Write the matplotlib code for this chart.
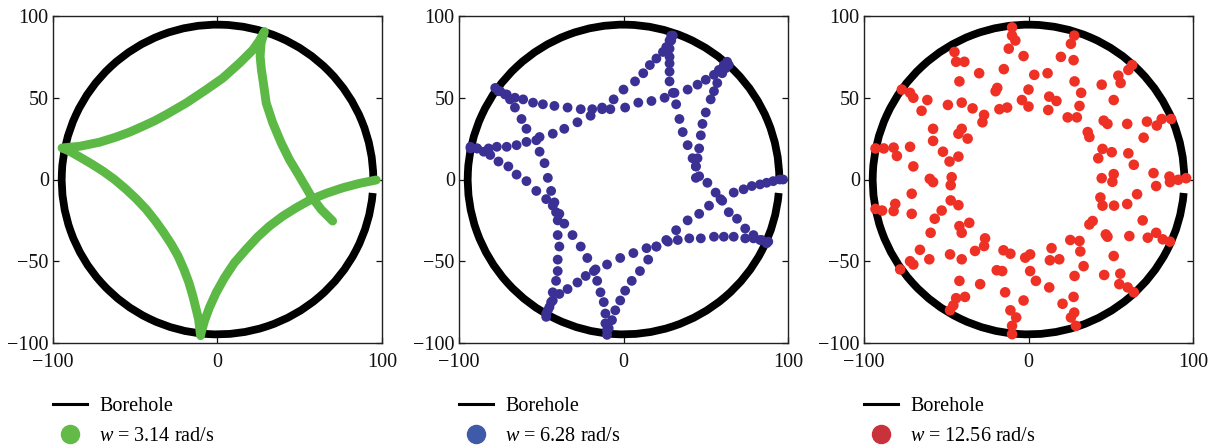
import matplotlib
matplotlib.use("Agg")
import matplotlib.pyplot as plt
from matplotlib.patches import Arc
from matplotlib.lines import Line2D

plt.rcParams['font.family'] = ['Liberation Serif', 'DejaVu Serif']
plt.rcParams['mathtext.fontset'] = 'custom'
plt.rcParams['mathtext.it'] = 'Liberation Serif:italic'
plt.rcParams['mathtext.rm'] = 'Liberation Serif'

# Borehole wall
BOREHOLE_RADIUS = 94.7
BOREHOLE_START_DEG = 0
BOREHOLE_END_DEG = 355

# Bit-centre trajectory, w = 3.14 rad/s (dense, drawn as a continuous band)
green_arc_0 = [(96.5, -0.3), (86.2, -2.4), (76.1, -5.1), (66.0, -8.5), (56.9, -12.2),
               (47.8, -17.3), (39.7, -22.4), (31.6, -28.5), (24.5, -35.0), (17.4, -42.7),
               (10.3, -50.9), (4.3, -60.0), (-0.8, -69.2), (-4.9, -78.3), (-7.9, -86.5),
               (-9.9, -93.6), (-10.3, -95.5)]
green_arc_1 = [(-10.3, -95.5), (-11.5, -85.5), (-13.0, -79.3), (-15.0, -71.2), (-17.4, -63.0),
               (-20.4, -55.0), (-24.0, -46.8), (-28.0, -39.7), (-32.6, -32.6), (-37.7, -25.4),
               (-43.3, -18.3), (-49.4, -11.8), (-55.9, -5.7), (-62.6, 0.0), (-69.6, 5.1),
               (-76.7, 9.6), (-83.8, 13.8), (-89.9, 17.3), (-94.5, 19.3)]
green_arc_2 = [(-94.5, 19.3), (-83.8, 20.3), (-71.7, 22.8), (-61.5, 26.0), (-53.4, 29.0),
               (-45.3, 32.6), (-38.0, 36.0), (-31.2, 39.7), (-19.0, 46.8), (-6.9, 54.9),
               (3.2, 62.0), (13.4, 71.2), (21.5, 79.3), (25.5, 85.0), (28.5, 90.5)]
green_arc_3 = [(28.5, 90.5), (26.5, 83.4), (25.9, 75.3), (26.7, 67.1), (27.9, 59.0),
               (29.6, 46.8), (33.6, 34.6), (38.7, 22.4), (43.7, 12.2), (49.8, 2.0),
               (56.9, -10.2), (63.0, -18.3), (70.0, -25.4)]

# Bit-centre trajectory, w = 6.28 rad/s
blue_arc_0 = [(97, 0), (95, 0), (91, -1), (87, -2), (83, -3), (78, -4), (73, -6), (67, -8),
              (59, -12), (52, -16), (46, -21), (39, -25), (32, -31), (26, -37), (20, -41),
              (15, -49), (10, -56), (5, -62), (1, -68), (-2, -74), (-5, -80), (-7, -86),
              (-9, -91), (-10, -95)]
blue_arc_1 = [(-10, -92), (-11, -88), (-11, -82), (-12, -75), (-14, -69), (-16, -62),
              (-18, -56), (-22, -48), (-26, -41), (-31, -34), (-36, -27), (-39, -21),
              (-43, -16), (-47, -12), (-53, -7), (-59, -1), (-65, 3), (-70, 8), (-76, 11),
              (-81, 15), (-85, 17), (-89, 19), (-93, 19)]
blue_arc_2 = [(-93, 20), (-89, 19), (-82, 19), (-77, 20), (-71, 20), (-65, 21), (-59, 23),
              (-51, 26), (-43, 28), (-36, 31), (-28, 35), (-20, 39), (-13, 44), (-6, 49),
              (0, 55), (7, 60), (12, 65), (16, 70), (20, 74), (24, 78), (26, 81), (28, 85),
              (29, 88)]
blue_arc_3 = [(30, 88), (29, 85), (28, 80), (28, 75), (28, 71), (28, 66), (28, 60), (30, 53),
              (32, 46), (34, 37), (36, 29), (39, 21), (42, 13), (44, 8), (46, 2), (51, -2),
              (56, -8), (60, -13), (64, -20), (69, -24), (74, -30), (79, -34), (83, -37),
              (87, -39)]
blue_arc_4 = [(88, -38), (84, -37), (79, -36), (74, -36), (67, -35), (61, -35), (55, -35),
              (47, -36), (40, -36), (33, -37), (27, -38), (20, -41), (14, -42), (6, -45),
              (-2, -48), (-10, -52), (-17, -55), (-23, -59), (-28, -63), (-34, -67),
              (-39, -70), (-43, -74), (-45, -78), (-47, -82)]
blue_arc_5 = [(-47, -84), (-46, -80), (-44, -75), (-43, -69), (-41, -62), (-40, -56),
              (-40, -49), (-39, -41), (-40, -34), (-40, -25), (-41, -20), (-42, -14),
              (-44, -7), (-46, 1), (-48, 10), (-51, 17), (-53, 24), (-59, 31), (-62, 37),
              (-66, 44), (-69, 49), (-72, 52), (-76, 54), (-78, 56)]
blue_arc_6 = [(-75, 54), (-71, 52), (-66, 50), (-61, 49), (-55, 47), (-49, 46), (-42, 45),
              (-34, 44), (-26, 43), (-19, 43), (-13, 43), (-8, 43), (1, 44), (9, 47),
              (17, 48), (25, 50), (31, 53), (39, 55), (45, 58), (50, 61), (55, 64), (58, 67),
              (61, 70), (63, 72)]
blue_arc_7 = [(64, 70), (62, 68), (60, 65), (57, 59), (55, 54), (53, 49), (50, 41), (48, 34),
              (47, 27), (46, 19), (45, 13), (44, 8), (44, 1)]

# Bit-centre trajectory, w = 12.56 rad/s
red_upper_left = [(-10, 93), (-10, 88), (-8, 85), (-12, 80), (-3, 75.5), (-45, 78), (-44, 72),
                  (-39, 72), (-30, 65), (-15, 67.5), (-42, 60), (-19, 56), (-20, 54), (0, 55),
                  (-72, 53), (-70, 50), (-77, 55), (-61.5, 48.6), (-49, 45.6), (-40.6, 47),
                  (-34, 43.5), (-65, 42), (-27, 39.5), (-28, 35), (-17.7, 43), (-13, 44),
                  (-4, 48.6), (0, 44.6), (-58, 31), (-40.6, 31), (-42.6, 28), (-37, 25),
                  (-58, 23.6), (-72, 20), (-88, 19), (-82, 19.5), (-80, 14.4), (-52, 17),
                  (-48, 11), (-42.6, 14), (-70, 8), (-60, 0.4), (-46.7, 1.4), (-93, 19)]
red_upper_right = [(27.8, 88), (25.8, 83), (19.7, 75), (27.4, 73), (3.5, 64), (11.6, 65),
                   (28, 60), (32, 53), (12.6, 50.7), (17, 48), (31, 45), (12, 42.5),
                   (23.8, 38), (29.4, 38), (44.5, 58), (54.6, 63.5), (56, 59), (60.7, 67),
                   (63, 70), (51.8, 48.6), (45.7, 36), (48, 34), (60, 34), (72, 35.4),
                   (78, 33), (81, 37), (86.7, 37), (36, 29), (37, 26), (70, 25.6), (45, 18.7),
                   (42.4, 13), (50.6, 16.7), (60.7, 16), (64, 9), (44.5, 0.8), (51.8, 3.3),
                   (76, 3.9), (85.7, 1.8), (91, -0.2), (95.8, 0.8)]
red_lower_left = [(-58, -1.6), (-47.3, -3.5), (-71, -8.7), (-81, -14.9), (-82, -19.3),
                  (-89, -19), (-93, -18), (-71, -21), (-47.3, -12.8), (-42.6, -15.7),
                  (-52.8, -19), (-57, -24), (-42, -28.5), (-40.6, -32.6), (-36, -26.5),
                  (-59.5, -32.6), (-26.4, -36), (-27, -40.7), (-66, -43), (-60.3, -48.8),
                  (-47.7, -45.8), (-40.6, -48.8), (-32.5, -43.7), (-15.2, -43.3),
                  (-11, -45.4), (-2, -47.8), (1, -45.8), (-72, -50), (-70, -52), (-78, -55),
                  (-19.3, -55.5), (-16, -56), (1, -56), (-42, -62), (-29.4, -64),
                  (-14.2, -69), (-3, -74), (-44, -72.6), (-38.6, -71.8), (-45.7, -77),
                  (-47.7, -80), (-11, -80), (-7.5, -84.4), (-10, -89.5), (-10, -94.6)]
red_lower_right = [(51, -1.4), (77.6, -4), (86, -1.6), (43.7, -11), (45, -16), (52, -16),
                   (60, -15), (66, -9), (37, -27.5), (39, -25.4), (69.4, -25), (47, -33.6),
                   (48, -35), (61.3, -34.6), (72.5, -35.6), (77.6, -32.6), (81.6, -36.6),
                   (86, -38), (25.4, -37), (31, -37.6), (31.5, -44), (14, -42), (13, -49.4),
                   (18.7, -48.8), (51.8, -46.8), (33.5, -53), (28, -59), (46, -58.4),
                   (55.8, -57.6), (55.2, -64), (60.3, -66), (64, -69), (4.5, -62),
                   (12.6, -66), (27.4, -71.8), (20.7, -76), (27.8, -81.4), (25.8, -84.4),
                   (28.8, -89.5)]

green_arcs = [green_arc_0, green_arc_1, green_arc_2, green_arc_3]
blue_arcs = [blue_arc_0, blue_arc_1, blue_arc_2, blue_arc_3,
             blue_arc_4, blue_arc_5, blue_arc_6, blue_arc_7]
red_groups = [red_upper_left, red_upper_right, red_lower_left, red_lower_right]

speed_labels = [r'$w$ = 3.14 rad/s', r'$w$ = 6.28 rad/s', r'$w$ = 12.56 rad/s']
trace_colors = ['#5cb946', '#3b3194', '#ee3124']
legend_colors = ['#62bb47', '#3f5aa8', '#c8323b']

x_ticks = [-100, 0, 100]
y_ticks = [-100, -50, 0, 50, 100]

fig = plt.figure(figsize=(12.14, 4.46), dpi=100)
panel_lefts = [53, 459, 864]
panel_width = 329
axes = [fig.add_axes([l / 1214, 103 / 446, panel_width / 1214, 327 / 446]) for l in panel_lefts]


def unzip(points):
    return [p[0] for p in points], [p[1] for p in points]


for i, ax in enumerate(axes):
    ax.add_patch(Arc((0, 0), 2 * BOREHOLE_RADIUS, 2 * BOREHOLE_RADIUS,
                     theta1=BOREHOLE_START_DEG, theta2=BOREHOLE_END_DEG,
                     color='black', lw=5.6, zorder=2))

    if i == 0:
        xs, ys = [], []
        for arc in green_arcs:
            ax_, ay_ = unzip(arc)
            xs += ax_
            ys += ay_
        ax.plot(xs, ys, color=trace_colors[0], lw=6.4, solid_capstyle='round',
                solid_joinstyle='round', zorder=3)
    elif i == 1:
        for arc in blue_arcs:
            bx, by = unzip(arc)
            ax.scatter(bx, by, s=50, color=trace_colors[1], edgecolors='none', zorder=3)
    else:
        for grp in red_groups:
            rx, ry = unzip(grp)
            ax.scatter(rx, ry, s=58, color=trace_colors[2], edgecolors='none', zorder=3)

    ax.set_xlim(-100, 100)
    ax.set_ylim(-100, 100)
    ax.set_xticks(x_ticks)
    ax.set_yticks(y_ticks)
    ax.tick_params(direction='in', top=True, right=True, length=4, width=0.9,
                   labelsize=14.5, colors='#111111')
    ax.tick_params(axis='x', pad=7)
    ax.tick_params(axis='y', pad=3)
    for sp in ax.spines.values():
        sp.set_linewidth(1.0)
        sp.set_color('#222222')

    handles = [Line2D([], [], color='black', lw=2.2),
               Line2D([], [], ls='none', marker='o', ms=13, color=legend_colors[i])]
    ax.legend(handles, ['Borehole', speed_labels[i]], loc='upper left',
              bbox_to_anchor=(0.0, -0.165), frameon=False, fontsize=14.5,
              handlelength=1.7, handletextpad=0.6, labelspacing=0.55,
              borderaxespad=0, borderpad=0)

fig.savefig('out.png', dpi=100)
